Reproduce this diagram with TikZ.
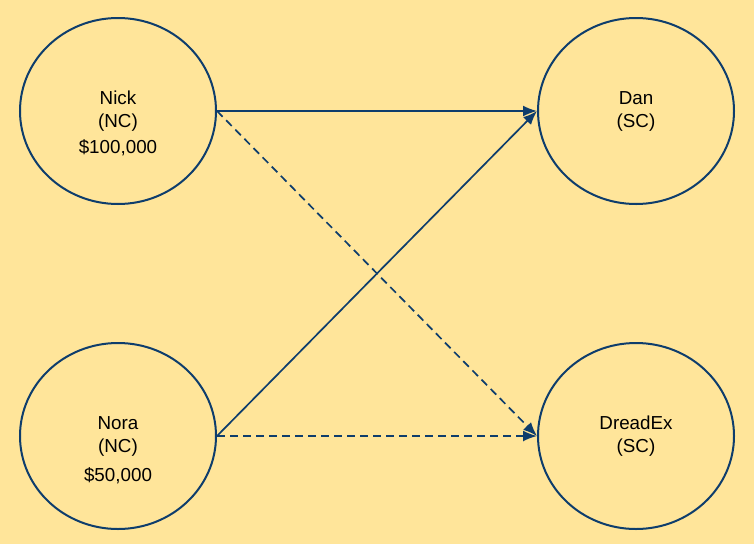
\documentclass[tikz,border=0pt]{standalone}
\usepackage{fontspec}
\setmainfont{Liberation Sans}
\usepackage{xcolor}
\usepackage{tikz}
\usetikzlibrary{arrows.meta,positioning,shapes.geometric}
\definecolor{paper}{HTML}{FFE59A}
\definecolor{ink}{HTML}{0E3D6C}

\begin{document}
\begin{tikzpicture}[x=1pt, y=1pt,
  person/.style={ellipse, draw=ink, line width=2pt, minimum width=196pt, minimum height=186pt, align=center, font=\fontsize{18.8}{23}\selectfont, inner sep=0pt},
  amount/.style={font=\fontsize{18.8}{23}\selectfont, inner sep=0pt},
  rel/.style={-{Latex[length=14pt, width=11pt]}, line width=1.7pt, draw=ink},
  maybe/.style={rel, dash pattern=on 8pt off 5pt}
]
\fill[paper] (0,0) rectangle (754,-544);
\useasboundingbox (0,0) rectangle (754,-544);
\node[person] (nick) at (118,-111) {Nick\\(NC)};
\node[person, right=320pt of nick] (dan) {Dan\\(SC)};
\node[person, below=137pt of nick] (nora) {Nora\\(NC)};
\node[person, below=137pt of dan] (dreadex) {DreadEx\\(SC)};
\node[amount] (nickcash) at ([yshift=-37pt]nick.center) {\$100,000};
\node[amount] (noracash) at ([yshift=-40pt]nora.center) {\$50,000};
\draw[rel] (nick.east) -- (dan.west);
\draw[rel] (nora.east) -- (dan.west);
\draw[maybe] (nick.east) -- (dreadex.west);
\draw[maybe] (nora.east) -- (dreadex.west);
\end{tikzpicture}
\end{document}
